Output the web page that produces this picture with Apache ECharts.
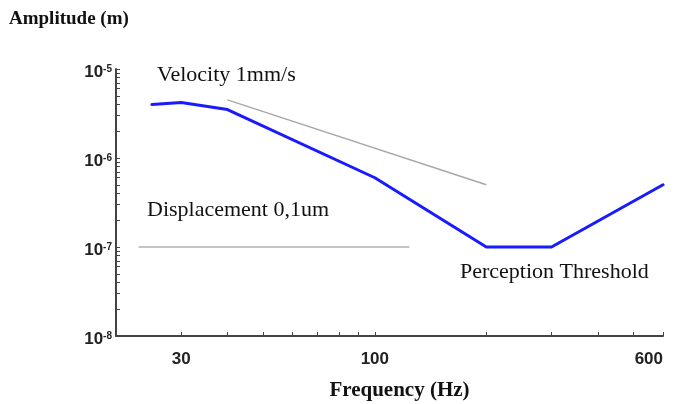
<!DOCTYPE html>
<html>
<head>
<meta charset="utf-8">
<script src="https://cdn.jsdelivr.net/npm/echarts@6/dist/echarts.min.js"></script>
<style>
  html, body { margin: 0; padding: 0; background: #fff; }
  #chart { width: 674px; height: 404px; }
</style>
</head>
<body>
<div id="chart"></div>
<script>
// perception threshold curve (blue)
const thresholdFreq = [25, 30, 40, 100, 200, 300, 600]
const thresholdAmp = [4.0e-6, 4.2e-6, 3.5e-6, 6e-7, 1e-7, 1e-7, 5e-7]
// reference lines (grey)
const velocityFreq = [40, 200]
const velocityAmp = [4.5e-6, 5e-7]
const displacementFreq = [23, 124]
const displacementAmp = [1e-7, 1e-7]
// axis ticks / labels
const xLabels = [30, 100, 600]
const xTicks = [30, 40, 50, 60, 70, 80, 90, 100, 200, 300, 400, 500, 600]
const yLabels = [1e-8, 1e-7, 1e-6, 1e-5]
const yTicks = []
yLabels.forEach((p, i) => {
  yTicks.push(p)
  if (i < yLabels.length - 1) {
    for (let k = 2; k <= 9; k++) yTicks.push(p * k)
  }
})

const pairs = (xs, ys) => xs.map((x, i) => [x, ys[i]])

const chart = echarts.init(document.getElementById('chart'))

const serif = 'Liberation Serif'
const sans = 'Liberation Sans'
const axisColor = '#444'

const option = {
  animation: false,
  title: {
    text: 'Amplitude (m)',
    left: 4,
    top: 5,
    textStyle: { fontFamily: serif, fontWeight: 'bold', fontSize: 19, color: '#111' }
  },
  grid: { left: 116, right: 11, top: 69, bottom: 68, outerBoundsMode: 'none', containLabel: false },
  xAxis: {
    type: 'log',
    logBase: 10,
    min: 20,
    max: 600,
    name: 'Frequency (Hz)',
    nameLocation: 'middle',
    nameGap: 44,
    nameTextStyle: { fontFamily: serif, fontWeight: 'bold', fontSize: 21, color: '#111', padding: [0, 0, 0, 20] },
    axisLine: { lineStyle: { color: axisColor, width: 2 } },
    axisTick: { inside: true, length: 4, customValues: xTicks, lineStyle: { color: axisColor } },
    splitLine: { show: false },
    minorTick: { show: false },
    axisLabel: {
      customValues: xLabels,
      margin: 15,
      alignMaxLabel: 'right',
      fontFamily: sans,
      fontWeight: 'bold',
      fontSize: 17,
      color: '#222',
      formatter: v => String(Math.round(v))
    }
  },
  yAxis: {
    type: 'log',
    logBase: 10,
    min: 1e-8,
    max: 1e-5,
    axisLine: { show: true, lineStyle: { color: axisColor, width: 2 } },
    axisTick: { show: true, inside: true, length: 4, customValues: yTicks, lineStyle: { color: axisColor } },
    splitLine: { show: false },
    axisLabel: {
      customValues: yLabels,
      margin: 4,
      padding: [6, 0, 0, 0],
      formatter: v => '{b|10}{s|' + Math.round(Math.log10(v)) + '}',
      rich: {
        b: { fontFamily: sans, fontWeight: 'bold', fontSize: 17, lineHeight: 16, color: '#222' },
        s: { fontFamily: sans, fontWeight: 'bold', fontSize: 10, lineHeight: 10, verticalAlign: 'top', color: '#222' }
      }
    }
  },
  series: [
    {
      name: 'Velocity 1mm/s',
      type: 'line',
      data: pairs(velocityFreq, velocityAmp),
      symbol: 'none',
      lineStyle: { color: '#a8a8a8', width: 1.5 }
    },
    {
      name: 'Displacement 0,1um',
      type: 'line',
      data: pairs(displacementFreq, displacementAmp),
      symbol: 'none',
      lineStyle: { color: '#b0b0b0', width: 1.5 }
    },
    {
      name: 'Perception Threshold',
      type: 'line',
      data: pairs(thresholdFreq, thresholdAmp),
      symbol: 'none',
      lineStyle: { color: '#1a1aff', width: 3, cap: 'round', join: 'round' }
    }
  ],
  graphic: [
    { type: 'text', left: 157, top: 64, style: { text: 'Velocity 1mm/s', fontFamily: serif, fontSize: 22, fill: '#111' } },
    { type: 'text', left: 147, top: 199, style: { text: 'Displacement 0,1um', fontFamily: serif, fontSize: 22, fill: '#111' } },
    { type: 'text', left: 460, top: 261, style: { text: 'Perception Threshold', fontFamily: serif, fontSize: 22, fill: '#111' } }
  ]
}

chart.setOption(option)
</script>
</body>
</html>
